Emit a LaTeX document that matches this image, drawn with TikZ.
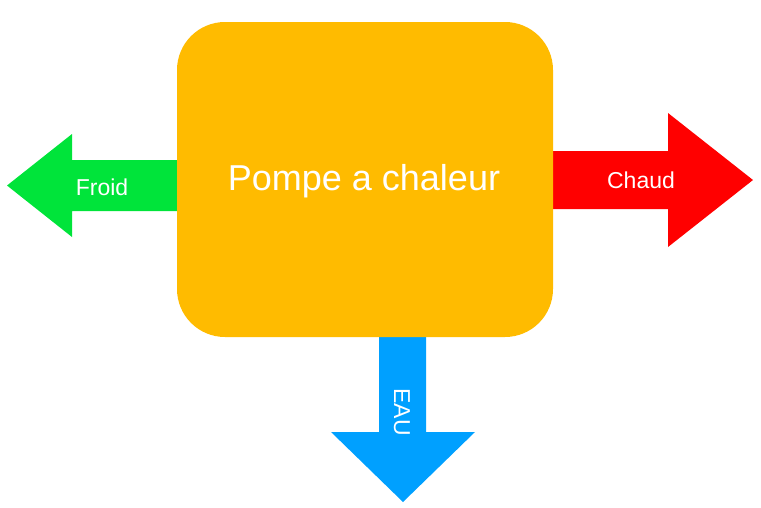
\documentclass[tikz,border=0pt]{standalone}
\usepackage{fontspec}
\setmainfont{Liberation Sans}
\definecolor{boxorange}{RGB}{255,187,0}
\definecolor{arrgreen}{RGB}{0,228,58}
\definecolor{arrred}{RGB}{255,0,0}
\definecolor{arrblue}{RGB}{0,160,255}
\begin{document}
\begin{tikzpicture}[x=1pt,y=-1pt,
  lbl/.style={text=white,font=\fontsize{23}{26}\selectfont,inner sep=0pt},
  biglbl/.style={text=white,font=\fontsize{36}{40}\selectfont,inner sep=0pt}]
\useasboundingbox (0,0) rectangle (761,507);
% green arrow (left)
\fill[arrgreen] (180,160) -- (72,160) -- (72,134) -- (7,185.5) -- (72,237) -- (72,211) -- (180,211) -- cycle;
% red arrow (right)
\fill[arrred] (550,151) -- (668,151) -- (668,113) -- (753,180) -- (668,247) -- (668,209) -- (550,209) -- cycle;
% blue arrow (down)
\fill[arrblue] (379,330) -- (379,432) -- (331,432) -- (403,502) -- (475,432) -- (426,432) -- (426,330) -- cycle;
% box
\fill[boxorange,rounded corners=48pt] (177,22) rectangle (553,337);
\node[biglbl] (pac) at (364,181) {Pompe a chaleur};
\node[lbl] (froid) at (102,187) {Froid};
\node[lbl] (chaud) at (641,180) {Chaud};
\node[lbl,rotate=-90] (eau) at (402,412) {EAU};
\end{tikzpicture}
\end{document}
